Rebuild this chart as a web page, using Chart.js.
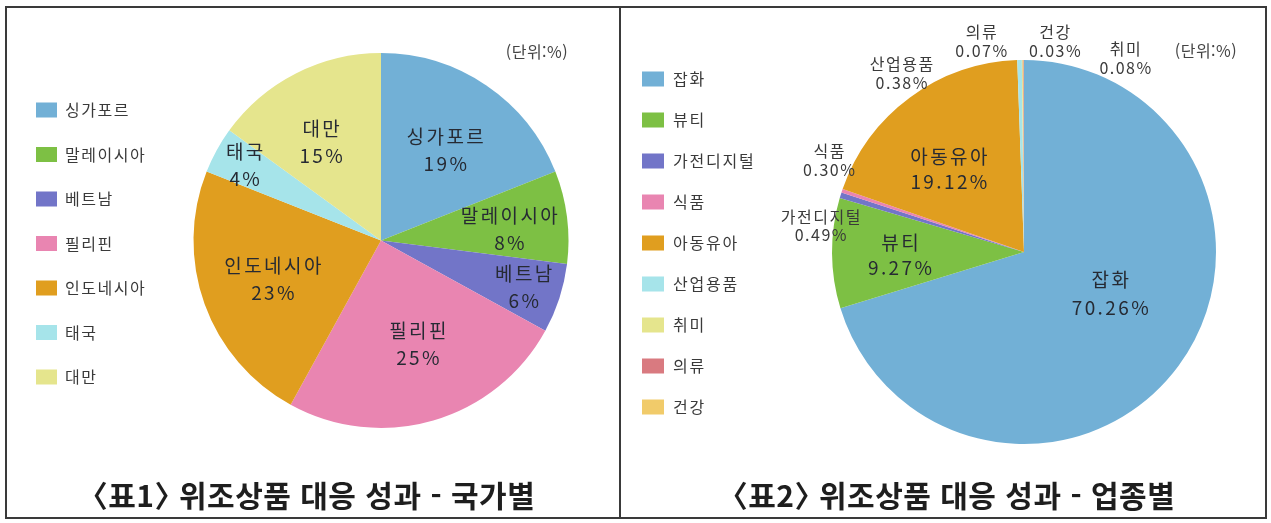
<!DOCTYPE html>
<html lang="ko">
<head>
<meta charset="utf-8">
<script src="https://cdn.jsdelivr.net/npm/chart.js@4.4.1/dist/chart.umd.min.js"></script>
<style>
  html, body { margin: 0; padding: 0; background: #fff; }
  #wrap { position: relative; width: 1271px; height: 523px; overflow: hidden; background: #fff;
          font-family: 'Noto Sans CJK KR', 'Noto Sans', sans-serif; }
  canvas { position: absolute; top: 0; }
  .frame { position: absolute; left: 5px; top: 6px; width: 1258px; height: 509px; border: 2px solid #3a3a3a; }
  .divider { position: absolute; left: 619px; top: 6px; width: 2px; height: 512px; background: #3a3a3a; }
  .title { position: absolute; width: 600px; text-align: center; font-size: 30px; font-weight: 700;
           line-height: 38px; color: #1e1e1e; white-space: nowrap; font-feature-settings: "halt";
           letter-spacing: 0.5px; }
  .unit { position: absolute; width: 120px; text-align: center; font-size: 16px; line-height: 20px;
          color: #444; white-space: nowrap; letter-spacing: 0.5px; }
</style>
</head>
<body>
<div id="wrap">
  <canvas id="c1" width="620" height="523" style="left:0"></canvas>
  <canvas id="c2" width="651" height="523" style="left:620px"></canvas>
  <div class="frame"></div>
  <div class="divider"></div>
  <div class="unit" style="left:477px;top:41px">(단위:%)</div>
  <div class="unit" style="left:1146px;top:40px">(단위:%)</div>
  <div class="title" style="left:14px;top:475px">〈표1〉 위조상품 대응 성과 - 국가별</div>
  <div class="title" style="left:654px;top:475px">〈표2〉 위조상품 대응 성과 - 업종별</div>
</div>
<script>
// ---- data ----
const countryLabels = ['싱가포르', '말레이시아', '베트남', '필리핀', '인도네시아', '태국', '대만'];
const countryValues = [19, 8, 6, 25, 23, 4, 15];
const countryColors = ['#72b0d6', '#7dc044', '#7275c8', '#e985b1', '#e09e1f', '#a6e4ea', '#e5e58d'];

const industryLabels = ['잡화', '뷰티', '가전디지털', '식품', '아동유아', '산업용품', '취미', '의류', '건강'];
const industryValues = [70.26, 9.27, 0.49, 0.30, 19.12, 0.38, 0.08, 0.07, 0.03];
const industryColors = ['#72b0d6', '#7dc044', '#7275c8', '#e985b1', '#e09e1f', '#a6e4ea', '#e5e58d', '#d97a80', '#f1cb6a'];

const FONT = "'Noto Sans CJK KR', 'Noto Sans', sans-serif";

// ---- label placement (style only) ----
const big = { size: 19, spacing: 2.4, gap: 27, color: '#262a33' };
const small = { size: 16, spacing: 1.5, gap: 19, color: '#3a3a3a' };
const countryPlace = [
  { f: 0.59, dx: 2, dy: 1, s: big },
  { f: 0.69, dx: 0, dy: 5, s: big },
  { f: 0.80, dx: 0, dy: 0, s: big },
  { f: 0.59, dx: 6, dy: -2, s: big },
  { f: 0.613, dx: 0, dy: 0, s: big },
  { f: 0.83, dx: 0, dy: 0, s: big },
  { f: 0.61, dx: -8, dy: 4, s: big }
];
const industryPlace = [
  { f: 0.5, dx: 9, dy: -15, s: Object.assign({}, big, { gap: 28 }) },
  { f: 0.646, dx: 0, dy: 2, s: Object.assign({}, big, { gap: 25 }) },
  { f: 1, dx: -20, dy: 31, s: Object.assign({}, small, { gap: 18 }) },
  { f: 1, dx: -13, dy: -30, s: small },
  { f: 0.58, dx: -9, dy: 7, s: Object.assign({}, big, { gap: 25 }) },
  { f: 1, dx: -118, dy: 13, s: small },
  { f: 1, dx: 103, dy: -2, s: small },
  { f: 1, dx: -42, dy: -19, s: small },
  { f: 1, dx: 31, dy: -19, s: small }
];

const sliceLabels = {
  id: 'sliceLabels',
  afterDatasetsDraw(chart, args, o) {
    const ctx = chart.ctx;
    const meta = chart.getDatasetMeta(0);
    const values = chart.data.datasets[0].data;
    const labels = chart.data.labels;
    meta.data.forEach((arc, i) => {
      const p = arc.getProps(['x', 'y', 'startAngle', 'endAngle', 'outerRadius'], true);
      const pl = o.place[i];
      const mid = (p.startAngle + p.endAngle) / 2;
      const x = p.x + Math.cos(mid) * p.outerRadius * pl.f + pl.dx;
      const y = p.y + Math.sin(mid) * p.outerRadius * pl.f + pl.dy;
      const s = pl.s;
      ctx.save();
      ctx.font = `400 ${s.size}px ${FONT}`;
      ctx.fillStyle = s.color;
      ctx.textAlign = 'center';
      ctx.textBaseline = 'middle';
      ctx.letterSpacing = s.spacing + 'px';
      const txtVal = values[i].toFixed(o.decimals) + '%';
      ctx.fillText(labels[i], x + s.spacing / 2, y - s.gap / 2);
      ctx.fillText(txtVal, x + s.spacing / 2, y + s.gap / 2);
      ctx.restore();
    });
  }
};

const boxLegend = {
  id: 'boxLegend',
  afterDraw(chart, args, o) {
    const ctx = chart.ctx;
    const labels = chart.data.labels;
    const colors = chart.data.datasets[0].backgroundColor;
    ctx.save();
    labels.forEach((t, i) => {
      const cy = o.y0 + i * o.step;
      ctx.fillStyle = colors[i];
      ctx.fillRect(o.x, cy - o.bh / 2, o.bw, o.bh);
      ctx.font = `400 ${o.size}px ${FONT}`;
      ctx.letterSpacing = o.spacing + 'px';
      ctx.fillStyle = o.color;
      ctx.textAlign = 'left';
      ctx.textBaseline = 'middle';
      ctx.fillText(t, o.tx, cy);
    });
    ctx.restore();
  }
};

function makePie(id, labels, values, colors, radius, padding, decimals, place, legend) {
  return new Chart(document.getElementById(id), {
    type: 'pie',
    data: {
      labels: labels,
      datasets: [{ data: values, backgroundColor: colors, borderWidth: 0, radius: radius }]
    },
    options: {
      responsive: false,
      animation: false,
      devicePixelRatio: 1,
      layout: { padding: padding },
      plugins: {
        legend: { display: false },
        tooltip: { enabled: false },
        sliceLabels: { decimals: decimals, place: place },
        boxLegend: legend
      }
    },
    plugins: [sliceLabels, boxLegend]
  });
}

makePie('c1', countryLabels, countryValues, countryColors, 187.5,
  { left: 191, right: 49, top: 50.5, bottom: 92.5 }, 0, countryPlace,
  { x: 36, bw: 21, bh: 15, tx: 65, y0: 110, step: 44.5, size: 16, spacing: 1.5, color: '#3a3a3a' });

makePie('c2', industryLabels, industryValues, industryColors, 192,
  { left: 209, right: 52, top: 57, bottom: 76 }, 2, industryPlace,
  { x: 22, bw: 22, bh: 15, tx: 53, y0: 79, step: 41, size: 16, spacing: 1.8, color: '#3a3a3a' });
</script>
</body>
</html>
